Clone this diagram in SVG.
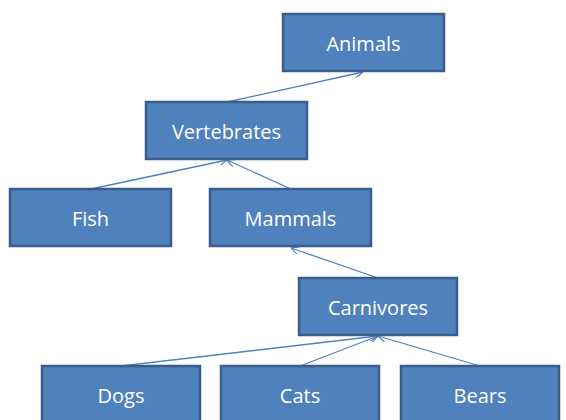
<svg xmlns="http://www.w3.org/2000/svg" width="566" height="420" viewBox="0 0 566 420">
<defs>
<style>
.box{fill:#4f81bd;stroke:#385d8a;stroke-width:2.5}
.lbl{fill:#fff;font-family:"Open Sans","Noto Sans",sans-serif;font-size:20px;text-anchor:middle;dominant-baseline:central}
.con{stroke:#4f81bd;stroke-width:1.3;fill:none;marker-end:url(#arr)}
</style>
<marker id="arr" viewBox="0 0 10 10" refX="10" refY="5" markerWidth="8" markerHeight="8" markerUnits="userSpaceOnUse" orient="auto">
<path d="M0,0 L10,5 L0,10" fill="none" stroke="#4f81bd" stroke-width="1.5"/>
</marker>
</defs>
<rect width="566" height="420" fill="#fff"/>
<g id="connectors">
<line class="con" x1="227" y1="102" x2="363" y2="72"/>
<line class="con" x1="91" y1="189" x2="227" y2="160"/>
<line class="con" x1="291" y1="189" x2="227" y2="160"/>
<line class="con" x1="378" y1="278" x2="291" y2="248"/>
<line class="con" x1="121" y1="366" x2="378" y2="336"/>
<line class="con" x1="300" y1="366" x2="378" y2="336"/>
<line class="con" x1="480" y1="366" x2="378" y2="336"/>
</g>
<g id="animals"><rect class="box" x="283" y="14" width="161" height="57"/><text class="lbl" x="363.5" y="43">Animals</text></g>
<g id="vertebrates"><rect class="box" x="146" y="102" width="161" height="57"/><text class="lbl" x="226.5" y="131">Vertebrates</text></g>
<g id="fish"><rect class="box" x="10" y="189" width="161" height="57"/><text class="lbl" x="90.5" y="218">Fish</text></g>
<g id="mammals"><rect class="box" x="210" y="189" width="161" height="57"/><text class="lbl" x="290.5" y="218">Mammals</text></g>
<g id="carnivores"><rect class="box" x="299" y="278" width="158" height="57"/><text class="lbl" x="378" y="307">Carnivores</text></g>
<g id="dogs"><rect class="box" x="42" y="366" width="158" height="57"/><text class="lbl" x="121" y="395">Dogs</text></g>
<g id="cats"><rect class="box" x="221" y="366" width="158" height="57"/><text class="lbl" x="300" y="395">Cats</text></g>
<g id="bears"><rect class="box" x="401" y="366" width="158" height="57"/><text class="lbl" x="480" y="395">Bears</text></g>
</svg>
